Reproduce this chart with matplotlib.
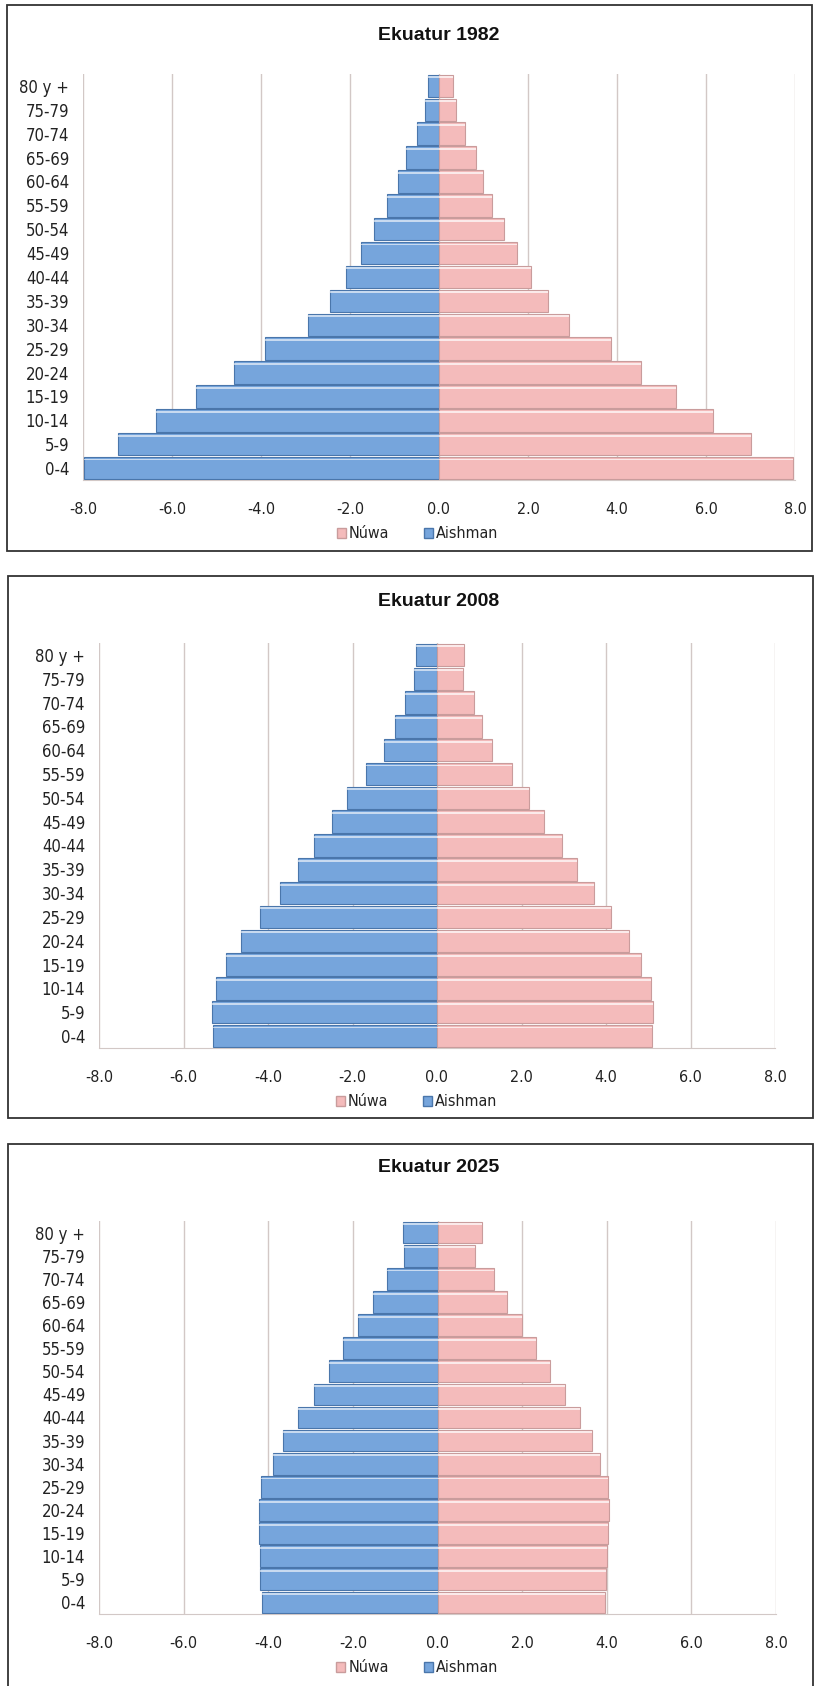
import matplotlib
matplotlib.use("Agg")
import matplotlib.pyplot as plt
from matplotlib.patches import Rectangle, Patch
from matplotlib.font_manager import FontProperties
import numpy as np

W, H = 819, 1686

# Datos
grupos = ["0-4", "5-9", "10-14", "15-19", "20-24", "25-29", "30-34", "35-39",
          "40-44", "45-49", "50-54", "55-59", "60-64", "65-69", "70-74",
          "75-79", "80 y +"]

aishman_1982 = [7.98, 7.21, 6.35, 5.45, 4.61, 3.92, 2.94, 2.44, 2.09, 1.75,
                1.45, 1.16, 0.93, 0.75, 0.50, 0.32, 0.24]
nuwa_1982 = [7.95, 7.00, 6.16, 5.33, 4.53, 3.87, 2.92, 2.44, 2.06, 1.75,
             1.47, 1.19, 0.99, 0.83, 0.58, 0.39, 0.32]

aishman_2008 = [5.29, 5.32, 5.24, 4.99, 4.64, 4.18, 3.71, 3.30, 2.90, 2.49,
                2.13, 1.69, 1.26, 1.00, 0.76, 0.54, 0.50]
nuwa_2008 = [5.09, 5.11, 5.07, 4.82, 4.55, 4.13, 3.72, 3.32, 2.95, 2.54,
             2.17, 1.77, 1.30, 1.06, 0.87, 0.62, 0.64]

aishman_2025 = [4.14, 4.19, 4.20, 4.21, 4.22, 4.16, 3.89, 3.65, 3.29, 2.92,
                2.57, 2.24, 1.89, 1.53, 1.20, 0.78, 0.81]
nuwa_2025 = [3.95, 3.99, 4.01, 4.04, 4.06, 4.04, 3.85, 3.66, 3.37, 3.01,
             2.66, 2.32, 1.99, 1.65, 1.34, 0.89, 1.06]

xticks = [-8, -6, -4, -2, 0, 2, 4, 6, 8]

# (titulo, aishman, nuwa, caja px, ejes px, y titulo)
paneles = [
    ("Ekuatur 1982", aishman_1982, nuwa_1982, (7, 5, 812, 551), (83, 74, 795, 480), 36),
    ("Ekuatur 2008", aishman_2008, nuwa_2008, (8, 576, 813, 1118), (99, 643, 775, 1048), 601),
    ("Ekuatur 2025", aishman_2025, nuwa_2025, (8, 1144, 813, 1700), (99, 1221, 776, 1614), 1168),
]

azul = "#76a5dc"
azul_borde = "#4a76ab"
rosa = "#f4bbbb"
rosa_borde = "#c99c9c"
rejilla = "#d2c8c6"

fuente = FontProperties(family="DejaVu Sans", stretch="condensed", size=11.5)

fig = plt.figure(figsize=(W / 100, H / 100), dpi=100)


def px_rect(x0, y0, x1, y1):
    return [x0 / W, 1 - y1 / H, (x1 - x0) / W, (y1 - y0) / H]


for titulo, aish, nuwa, caja, ejes, ytit in paneles:
    # marco del panel
    bx = px_rect(*caja)
    fig.patches.append(Rectangle((bx[0], bx[1]), bx[2], bx[3], transform=fig.transFigure,
                                 fill=False, edgecolor="#333333", linewidth=1.3))
    fig.text(439 / W, 1 - ytit / H, titulo, ha="center", va="center",
             fontsize=14, fontweight="bold", family="Liberation Sans", color="#111111")

    ax = fig.add_axes(px_rect(*ejes))
    y = np.arange(len(grupos))
    a = -np.array(aish)
    n = np.array(nuwa)

    ax.barh(y, a, height=0.94, color=azul, edgecolor=azul_borde, linewidth=0.8, zorder=3)
    ax.barh(y, n, height=0.94, color=rosa, edgecolor=rosa_borde, linewidth=0.8, zorder=3)
    # brillo superior de las barras
    ax.barh(y + 0.36, a, height=0.08, color="white", alpha=0.6, linewidth=0, zorder=4)
    ax.barh(y + 0.36, n, height=0.08, color="white", alpha=0.7, linewidth=0, zorder=4)

    ax.set_xlim(-8, 8)
    ax.set_ylim(-0.5, len(grupos) - 0.5)
    ax.set_xticks(xticks)
    ax.set_xticklabels(["%.1f" % v for v in xticks])
    ax.set_yticks(y)
    ax.set_yticklabels(grupos)
    for v in xticks:
        ax.axvline(v, color=rejilla, linewidth=1.0, zorder=1)
    for s in ["top", "right", "left"]:
        ax.spines[s].set_visible(False)
    ax.spines["bottom"].set_color(rejilla)
    ax.tick_params(axis="x", length=0, pad=16, colors="#222222")
    ax.tick_params(axis="y", length=0, pad=10, colors="#222222")
    for lab in ax.get_xticklabels():
        lab.set_fontproperties(fuente)
    for lab in ax.get_yticklabels():
        lab.set_fontproperties(FontProperties(family="DejaVu Sans", stretch="condensed", size=12))

    alto_px = ejes[3] - ejes[1]
    manejadores = [Patch(facecolor=rosa, edgecolor=rosa_borde, label="Núwa"),
                   Patch(facecolor=azul, edgecolor=azul_borde, label="Aishman")]
    leg = ax.legend(handles=manejadores, loc="center", bbox_to_anchor=(0.47, -54 / alto_px),
                    ncol=2, frameon=False, handlelength=0.55, handleheight=0.55,
                    handletextpad=0.2, columnspacing=2.2, prop=fuente)
    for t in leg.get_texts():
        t.set_color("#222222")

fig.savefig("out.png", dpi=100, facecolor="white")
